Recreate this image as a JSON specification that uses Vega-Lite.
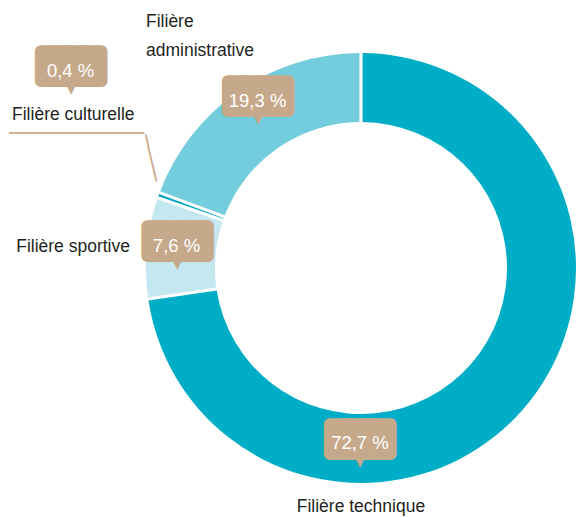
{
  "$schema": "https://vega.github.io/schema/vega-lite/v6.json",
  "width": 432,
  "height": 432,
  "autosize": {"type": "none"},
  "padding": {"left": 145, "top": 52, "right": 0, "bottom": 33},
  "background": "white",
  "view": {"stroke": null},
  "data": {"values": [
    {"filiere": "Filière technique", "part": 72.7, "etiquette": "72,7 %", "ordre": 1},
    {"filiere": "Filière sportive", "part": 7.6, "etiquette": "7,6 %", "ordre": 2},
    {"filiere": "Filière culturelle", "part": 0.4, "etiquette": "0,4 %", "ordre": 3},
    {"filiere": "Filière administrative", "part": 19.3, "etiquette": "19,3 %", "ordre": 4}
  ]},
  "encoding": {
    "theta": {"field": "part", "type": "quantitative", "stack": true},
    "order": {"field": "ordre", "type": "quantitative"}
  },
  "layer": [
    {
      "mark": {"type": "arc", "innerRadius": 146, "outerRadius": 215, "padAngle": 0.012},
      "encoding": {
        "color": {"field": "filiere", "type": "nominal", "legend": null,
          "scale": {"domain": ["Filière technique", "Filière sportive", "Filière culturelle", "Filière administrative"],
                    "range": ["#00adc6", "#c4e7f0", "#00a7c4", "#74cddc"]}}
      }
    },
    {
      "mark": {"type": "text", "font": "DejaVu Sans Mono", "fontSize": 25, "fill": "#c6a98a", "stroke": "#c6a98a", "strokeWidth": 12, "strokeJoin": "round", "align": "center", "baseline": "middle", "radius": 180, "dx": -137.2, "dy": 54.3},
      "encoding": {"text": {"condition": {"test": "datum.ordre === 1", "value": "████"}, "value": ""}}
    },
    {
      "mark": {"type": "text", "font": "DejaVu Sans Mono", "fontSize": 25, "fill": "#c6a98a", "stroke": "#c6a98a", "strokeWidth": 12, "strokeJoin": "round", "align": "center", "baseline": "middle", "radius": 180, "dx": -4.3, "dy": -8.6},
      "encoding": {"text": {"condition": {"test": "datum.ordre === 2", "value": "████"}, "value": ""}}
    },
    {
      "mark": {"type": "text", "font": "DejaVu Sans Mono", "fontSize": 25, "fill": "#c6a98a", "stroke": "#c6a98a", "strokeWidth": 12, "strokeJoin": "round", "align": "center", "baseline": "middle", "radius": 180, "dx": -120.6, "dy": -140.5},
      "encoding": {"text": {"condition": {"test": "datum.ordre === 3", "value": "████"}, "value": ""}}
    },
    {
      "mark": {"type": "text", "font": "DejaVu Sans Mono", "fontSize": 25, "fill": "#c6a98a", "stroke": "#c6a98a", "strokeWidth": 12, "strokeJoin": "round", "align": "center", "baseline": "middle", "radius": 180, "dx": -0.4, "dy": -22.6},
      "encoding": {"text": {"condition": {"test": "datum.ordre === 4", "value": "████"}, "value": ""}}
    },
    {
      "mark": {"type": "text", "font": "DejaVu Sans", "fontSize": 14, "fill": "#c6a98a", "align": "center", "baseline": "middle", "radius": 180, "dx": -137.2, "dy": 76.3},
      "encoding": {"text": {"condition": {"test": "datum.ordre === 1", "value": "▼"}, "value": ""}}
    },
    {
      "mark": {"type": "text", "font": "DejaVu Sans", "fontSize": 14, "fill": "#c6a98a", "align": "center", "baseline": "middle", "radius": 180, "dx": -4.3, "dy": 13.4},
      "encoding": {"text": {"condition": {"test": "datum.ordre === 2", "value": "▼"}, "value": ""}}
    },
    {
      "mark": {"type": "text", "font": "DejaVu Sans", "fontSize": 14, "fill": "#c6a98a", "align": "center", "baseline": "middle", "radius": 180, "dx": -120.6, "dy": -118.5},
      "encoding": {"text": {"condition": {"test": "datum.ordre === 3", "value": "▼"}, "value": ""}}
    },
    {
      "mark": {"type": "text", "font": "DejaVu Sans", "fontSize": 14, "fill": "#c6a98a", "align": "center", "baseline": "middle", "radius": 180, "dx": -0.4, "dy": -0.6},
      "encoding": {"text": {"condition": {"test": "datum.ordre === 4", "value": "▼"}, "value": ""}}
    },
    {
      "mark": {"type": "text", "font": "Liberation Sans", "fontSize": 18.5, "fill": "white", "align": "center", "baseline": "alphabetic", "radius": 180, "dx": -137.2, "dy": 62.8},
      "encoding": {"text": {"condition": {"test": "datum.ordre === 1", "field": "etiquette"}, "value": ""}}
    },
    {
      "mark": {"type": "text", "font": "Liberation Sans", "fontSize": 18.5, "fill": "white", "align": "center", "baseline": "alphabetic", "radius": 180, "dx": -5.3, "dy": 1.2},
      "encoding": {"text": {"condition": {"test": "datum.ordre === 2", "field": "etiquette"}, "value": ""}}
    },
    {
      "mark": {"type": "text", "font": "Liberation Sans", "fontSize": 18.5, "fill": "white", "align": "center", "baseline": "alphabetic", "radius": 180, "dx": -121.1, "dy": -130.5},
      "encoding": {"text": {"condition": {"test": "datum.ordre === 3", "field": "etiquette"}, "value": ""}}
    },
    {
      "mark": {"type": "text", "font": "Liberation Sans", "fontSize": 18.5, "fill": "white", "align": "center", "baseline": "alphabetic", "radius": 180, "dx": -0.9, "dy": -12.6},
      "encoding": {"text": {"condition": {"test": "datum.ordre === 4", "field": "etiquette"}, "value": ""}}
    },
    {
      "mark": {"type": "text", "font": "Liberation Sans", "fontSize": 17.5, "fill": "#231f20", "align": "center", "baseline": "alphabetic", "radius": 180, "dx": -136.2, "dy": 125.8},
      "encoding": {"text": {"condition": {"test": "datum.ordre === 1", "field": "filiere"}, "value": ""}}
    },
    {
      "mark": {"type": "text", "font": "Liberation Sans", "fontSize": 17.5, "fill": "#231f20", "align": "right", "baseline": "alphabetic", "radius": 180, "dx": -51.8, "dy": 1.2},
      "encoding": {"text": {"condition": {"test": "datum.ordre === 2", "field": "filiere"}, "value": ""}}
    },
    {
      "mark": {"type": "text", "font": "Liberation Sans", "fontSize": 17.5, "fill": "#231f20", "align": "left", "baseline": "alphabetic", "radius": 180, "dx": -179.6, "dy": -87.5},
      "encoding": {"text": {"condition": {"test": "datum.ordre === 3", "field": "filiere"}, "value": ""}}
    },
    {
      "mark": {"type": "text", "font": "Liberation Sans", "fontSize": 17.5, "fill": "#231f20", "align": "left", "baseline": "alphabetic", "lineBreak": " ", "lineHeight": 29, "radius": 180, "dx": -112.4, "dy": -92.6},
      "encoding": {"text": {"condition": {"test": "datum.ordre === 4", "field": "filiere"}, "value": ""}}
    },
    {
      "mark": {"type": "text", "font": "DejaVu Sans Mono", "fontSize": 20.4, "fill": "#c8a987", "align": "left", "baseline": "alphabetic", "radius": 180, "dx": -182.6, "dy": -66.6},
      "encoding": {"text": {"condition": {"test": "datum.ordre === 3", "value": "───────────"}, "value": ""}}
    },
    {
      "mark": {"type": "text", "font": "DejaVu Sans Mono", "fontSize": 20, "fill": "#c8a987", "align": "left", "baseline": "alphabetic", "angle": 76.8, "radius": 180, "dx": -81.0, "dy": 35.2},
      "encoding": {"text": {"condition": {"test": "datum.ordre === 3", "value": "────"}, "value": ""}}
    }
  ]
}
